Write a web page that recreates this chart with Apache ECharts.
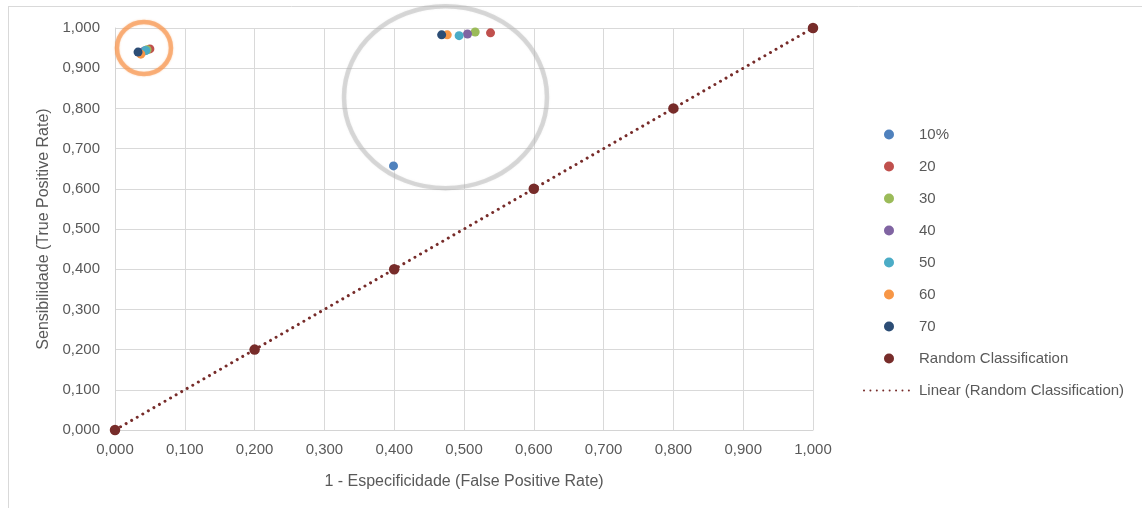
<!DOCTYPE html>
<html>
<head>
<meta charset="utf-8">
<script src="https://cdn.jsdelivr.net/npm/echarts@6/dist/echarts.min.js"></script>
<style>
  html, body { margin: 0; padding: 0; background: #ffffff; }
  #chart { width: 1142px; height: 508px; }
</style>
</head>
<body>
<div id="chart"></div>
<script>
// Threshold series: each has one point per classifier (left cluster, upper cluster)
const seriesNames = ['10%', '20', '30', '40', '50', '60', '70'];
const seriesColors = ['#4F81BD', '#C0504D', '#9BBB59', '#8064A2', '#4BACC6', '#F79646', '#2C4D75'];
const pts10 = [[0.038, 0.939], [0.399, 0.657]];
const pts20 = [[0.050, 0.948], [0.538, 0.988]];
const pts30 = [[0.046, 0.946], [0.516, 0.990]];
const pts40 = [[0.042, 0.943], [0.505, 0.985]];
const pts50 = [[0.044, 0.944], [0.493, 0.981]];
const pts60 = [[0.037, 0.935], [0.476, 0.983]];
const pts70 = [[0.033, 0.940], [0.468, 0.983]];
const seriesPoints = [pts10, pts20, pts30, pts40, pts50, pts60, pts70];

// Random classification reference points
const randomName = 'Random Classification';
const randomX = [0, 0.2, 0.4, 0.6, 0.8, 1.0];
const randomY = [0, 0.2, 0.4, 0.6, 0.8, 1.0];
const trendName = 'Linear (Random Classification)';

// Axis ticks
const axisMin = 0, axisMax = 1, axisStep = 0.1;
const xTitle = '1 - Especificidade (False Positive Rate)';
const yTitle = 'Sensibilidade (True Positive Rate)';

const FONT = '"Liberation Sans", Arial, sans-serif';
const TXT = '#595959';
const fmt = v => v.toFixed(3).replace('.', ',');

// least-squares fit for the trend line
function linearFit(xs, ys) {
  const n = xs.length;
  const mx = xs.reduce((a, b) => a + b, 0) / n;
  const my = ys.reduce((a, b) => a + b, 0) / n;
  let sxy = 0, sxx = 0;
  for (let i = 0; i < n; i++) { sxy += (xs[i] - mx) * (ys[i] - my); sxx += (xs[i] - mx) ** 2; }
  const slope = sxy / sxx;
  return { slope, intercept: my - slope * mx };
}
const fit = linearFit(randomX, randomY);
const trendX = [Math.min(...randomX), Math.max(...randomX)];
const trendData = trendX.map(x => [x, fit.intercept + fit.slope * x]);

const chart = echarts.init(document.getElementById('chart'), null, { renderer: 'canvas' });

const series = seriesNames.map((name, i) => ({
  name, type: 'scatter', data: seriesPoints[i], symbol: 'circle', symbolSize: 9,
  itemStyle: { color: seriesColors[i], opacity: 1 }, clip: false, z: 3
}));
series.push({
  name: trendName, type: 'line', data: trendData, showSymbol: false, symbol: 'none',
  lineStyle: { color: '#772C2A', width: 3, type: [0.01, 6.4], cap: 'round' },
  itemStyle: { color: '#772C2A' }, z: 2, silent: true
});
series.push({
  name: randomName, type: 'scatter', data: randomX.map((x, i) => [x, randomY[i]]),
  symbol: 'circle', symbolSize: 10.5, itemStyle: { color: '#772C2A', opacity: 1 }, clip: false, z: 4
});

const axisCommon = {
  type: 'value', min: axisMin, max: axisMax, interval: axisStep,
  axisLine: { show: true, lineStyle: { color: '#d4d4d4', width: 1 } },
  axisTick: { show: false },
  splitLine: { show: true, lineStyle: { color: '#d9d9d9', width: 1 } },
  axisLabel: { color: TXT, fontFamily: FONT, fontSize: 15, formatter: fmt },
  nameLocation: 'middle',
  nameTextStyle: { color: TXT, fontFamily: FONT, fontSize: 16 }
};

const legendData = seriesNames.concat([randomName]).map(n => ({ name: n }));
legendData.push({ name: trendName, itemStyle: { opacity: 0 } });

chart.setOption({
  animation: false,
  backgroundColor: '#ffffff',
  grid: { left: 115, right: 329, top: 28, bottom: 78, containLabel: false },
  xAxis: Object.assign({}, axisCommon, {
    name: xTitle, nameGap: 44,
    axisLabel: Object.assign({}, axisCommon.axisLabel, { margin: 12 })
  }),
  yAxis: Object.assign({}, axisCommon, {
    name: yTitle, nameGap: 59,
    axisLabel: Object.assign({}, axisCommon.axisLabel, { margin: 15 })
  }),
  legend: {
    orient: 'vertical', left: 858, top: 122,
    itemWidth: 50, itemHeight: 10, itemGap: 17,
    textStyle: { color: TXT, fontFamily: FONT, fontSize: 15 },
    data: legendData,
    selectedMode: false
  },
  series
});

// Hand-drawn highlight rings around the two classifier clusters
function ring(cx, cy, rx, ry, color) {
  const c = chart.convertToPixel({ gridIndex: 0 }, [cx, cy]);
  const e = chart.convertToPixel({ gridIndex: 0 }, [cx + rx, cy + ry]);
  return {
    type: 'ellipse', silent: true, z: 1,
    shape: { cx: c[0], cy: c[1], rx: Math.abs(e[0] - c[0]), ry: Math.abs(e[1] - c[1]) },
    style: { fill: null, stroke: color, lineWidth: 4.5, shadowBlur: 2, shadowColor: color }
  };
}
chart.setOption({
  graphic: [
    { type: 'line', silent: true, shape: { x1: 8, y1: 6.5, x2: 1142, y2: 6.5 }, style: { stroke: '#d9d9d9', lineWidth: 1 } },
    { type: 'line', silent: true, shape: { x1: 8.5, y1: 6, x2: 8.5, y2: 508 }, style: { stroke: '#d9d9d9', lineWidth: 1 } },
    ring(0.0415, 0.950, 0.0387, 0.0647, 'rgba(247,150,80,0.65)'),
    ring(0.4735, 0.828, 0.1454, 0.2264, 'rgba(175,175,175,0.42)')
  ]
});
</script>
</body>
</html>
